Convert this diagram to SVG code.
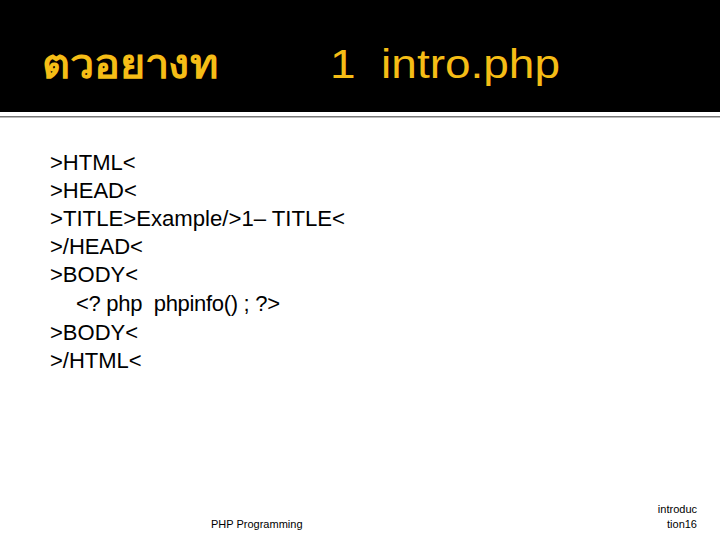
<svg xmlns="http://www.w3.org/2000/svg" width="720" height="540" viewBox="0 0 720 540">
<style>
.t{fill:#f5bd16;font-family:"Liberation Sans","DejaVu Sans",sans-serif;font-size:40px}
.b{fill:#000;font-family:"Liberation Sans",sans-serif;font-size:22px}
.f{fill:#000;font-family:"Liberation Sans",sans-serif;font-size:11px}
</style>
<rect width="720" height="540" fill="#fff"/>
<rect width="720" height="112" fill="#000"/>
<rect y="116" width="720" height="1.5" fill="#777"/>
<g id="title">
<text class="t" x="42" y="78" font-weight="bold" textLength="176" lengthAdjust="spacingAndGlyphs">ตวอยางท</text>
<text class="t" x="330" y="78" textLength="230" lengthAdjust="spacingAndGlyphs" xml:space="preserve">1  intro.php</text>
</g>
<g id="body">
<text class="b" x="50" y="170">&gt;HTML&lt;</text>
<text class="b" x="50" y="198">&gt;HEAD&lt;</text>
<text class="b" x="50" y="226" textLength="295" lengthAdjust="spacingAndGlyphs">&gt;TITLE&gt;Example/&gt;1– TITLE&lt;</text>
<text class="b" x="50" y="254">&gt;/HEAD&lt;</text>
<text class="b" x="50" y="282">&gt;BODY&lt;</text>
<text class="b" x="76" y="311" textLength="204" xml:space="preserve">&lt;? php  phpinfo() ; ?&gt;</text>
<text class="b" x="50" y="340">&gt;BODY&lt;</text>
<text class="b" x="50" y="368">&gt;/HTML&lt;</text>
</g>
<g id="footer">
<text class="f" x="211" y="528">PHP Programming</text>
<text class="f" x="697" y="513" text-anchor="end">introduc</text>
<text class="f" x="697" y="528" text-anchor="end">tion16</text>
</g>
</svg>
